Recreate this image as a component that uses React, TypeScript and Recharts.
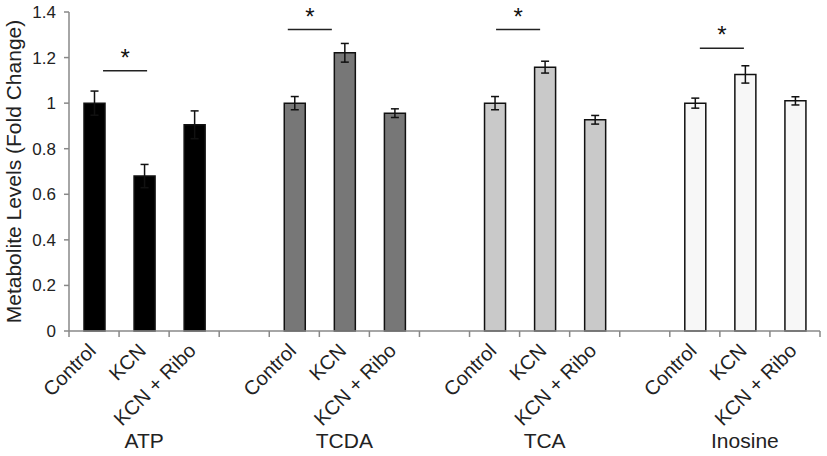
import React from 'react'
import {
  BarChart,
  Bar,
  Cell,
  XAxis,
  YAxis,
  ErrorBar,
  ReferenceLine
} from 'recharts'

const groups = ['ATP', 'TCDA', 'TCA', 'Inosine']
const conditions = ['Control', 'KCN', 'KCN + Ribo']

const atpMean = [1.0, 0.68, 0.905]
const atpErr = [0.053, 0.051, 0.061]
const tcdaMean = [1.0, 1.221, 0.956]
const tcdaErr = [0.029, 0.041, 0.019]
const tcaMean = [1.0, 1.158, 0.927]
const tcaErr = [0.029, 0.026, 0.019]
const inosineMean = [1.0, 1.126, 1.01]
const inosineErr = [0.022, 0.038, 0.018]

// level of the Control vs KCN significance bar for each metabolite
const sigLevel = [1.142, 1.323, 1.323, 1.241]

const yTicks = [0, 0.2, 0.4, 0.6, 0.8, 1, 1.2, 1.4]

const fills = ['#000000', '#777777', '#c9c9c9', '#f7f7f7']

const W = 827
const H = 456
const MARGIN = { top: 12, right: 7, left: 8, bottom: 0 }
const Y_W = 61
const SLOTS = 15
const SLOT = (W - MARGIN.left - MARGIN.right - Y_W) / SLOTS
// small horizontal nudges of the significance bars (in slots)
const sigShift = [0.12, -0.19, -0.03, 0.04]

const means = [atpMean, tcdaMean, tcaMean, inosineMean]
const errs = [atpErr, tcdaErr, tcaErr, inosineErr]

type Row = {
  key: string
  group: string
  cond: string
  gi: number
  ci: number
  value: number | null
  err: number | null
}

const data: Row[] = []
groups.forEach((g, gi) => {
  conditions.forEach((c, ci) => {
    data.push({ key: `${g}|${c}`, group: g, cond: c, gi, ci, value: means[gi][ci], err: errs[gi][ci] })
  })
  if (gi < groups.length - 1) {
    data.push({ key: `gap${gi}`, group: '', cond: '', gi, ci: -1, value: null, err: null })
  }
})

const byKey: Record<string, Row> = {}
data.forEach((d) => (byKey[d.key] = d))

const XTick = (props: any) => {
  const { x, y, payload, index } = props
  const row = byKey[payload.value]
  const last = index === data.length - 1
  return (
    <g>
      <line x1={x - SLOT / 2} y1={y} x2={x - SLOT / 2} y2={y + 6} stroke="#888" strokeWidth={1.5} />
      {last && <line x1={x + SLOT / 2} y1={y} x2={x + SLOT / 2} y2={y + 6} stroke="#888" strokeWidth={1.5} />}
      {row && row.cond && (
        <text
          transform={`translate(${x + 3},${y + 21}) rotate(-45)`}
          textAnchor="end"
          fontSize={20}
          fill="#222"
        >
          {row.cond}
        </text>
      )}
      {row && row.ci === 1 && (
        <text x={x} y={y + 117} textAnchor="middle" fontSize={21} fill="#222">
          {row.group}
        </text>
      )}
    </g>
  )
}

const sigShape = (gi: number) => (p: any) => {
  const x1 = p.x1 + SLOT * (0.06 + sigShift[gi])
  const x2 = p.x2 + SLOT * (-0.06 + sigShift[gi])
  const y = p.y1
  return (
    <g>
      <line x1={x1} y1={y} x2={x2} y2={y} stroke="#222" strokeWidth={1.5} />
      <text x={(x1 + x2) / 2} y={y - 5} textAnchor="middle" fontSize={24} fill="#111">
        *
      </text>
    </g>
  )
}

export default function App() {
  return (
    <div style={{ position: 'absolute', left: 0, top: 0, fontFamily: '"Liberation Sans", Arial, sans-serif' }}>
      <BarChart width={W} height={H} data={data} margin={MARGIN} barSize={21}>
        <XAxis
          xAxisId="cat"
          dataKey="key"
          interval={0}
          tick={<XTick />}
          tickLine={false}
          tickSize={0}
          tickMargin={0}
          axisLine={{ stroke: '#888', strokeWidth: 1.5 }}
          height={125}
        />
        <YAxis
          width={Y_W}
          domain={[0, 1.4]}
          ticks={yTicks}
          interval={0}
          axisLine={{ stroke: '#888', strokeWidth: 1.5 }}
          tickLine={{ stroke: '#888', strokeWidth: 1.5 }}
          tickSize={5}
          tickMargin={8}
          tick={{ fill: '#222', fontSize: 17 }}
          label={{
            value: 'Metabolite Levels (Fold Change)',
            angle: -90,
            position: 'insideLeft',
            offset: 6,
            style: { textAnchor: 'middle', fill: '#222', fontSize: 21 }
          }}
        />
        <Bar xAxisId="cat" dataKey="value" isAnimationActive={false} stroke="#111" strokeWidth={1.5}>
          {data.map((d, i) => (
            <Cell key={i} fill={fills[d.gi]} />
          ))}
          <ErrorBar dataKey="err" width={4} stroke="#111" strokeWidth={1.5} direction="y" />
        </Bar>
        {groups.map((g, gi) => (
          <ReferenceLine
            key={g}
            xAxisId="cat"
            segment={[
              { x: `${g}|${conditions[0]}`, y: sigLevel[gi] },
              { x: `${g}|${conditions[1]}`, y: sigLevel[gi] }
            ]}
            shape={sigShape(gi)}
          />
        ))}
      </BarChart>
    </div>
  )
}
